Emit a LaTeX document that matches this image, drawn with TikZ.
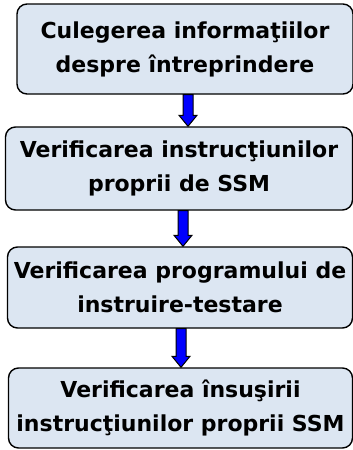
\documentclass[tikz,border=0pt]{standalone}
\usepackage{fontspec}
\setmainfont{DejaVu Sans}
\usepackage{xcolor}
\usepackage{tikz}
\usetikzlibrary{calc}
\definecolor{boxfill}{RGB}{220,230,242}
\definecolor{arrowblue}{RGB}{0,0,255}

\begin{document}
\begin{tikzpicture}[x=1pt, y=-1pt, every node/.style={font={\fontsize{22}{34}\selectfont\bfseries}, inner sep=0pt, align=center},
    stepbox/.style={draw=black, line width=1.4pt, fill=boxfill, rounded corners=10pt},
    flowarrow/.style={draw=black, line width=1pt, fill=arrowblue, line join=miter}]
    \useasboundingbox (0,0) rectangle (353,450);
    \node[stepbox, minimum width=336pt, minimum height=90pt] (s1) at (185,49) {Culegerea informaţiilor\\despre întreprindere};
    \node[stepbox, minimum width=347pt, minimum height=83pt] (s2) at (179,168.5) {Verificarea instrucţiunilor\\proprii de SSM};
    \node[stepbox, minimum width=345pt, minimum height=81pt] (s3) at (180,287.5) {Verificarea programului de\\instruire-testare};
    \node[stepbox, minimum width=344pt, minimum height=80pt] (s4) at (180.5,408) {Verificarea însuşirii\\instrucţiunilor proprii SSM};
    % arrows between the steps
    \foreach \a/\b/\x in {s1/s2/188, s2/s3/183, s3/s4/181} {
        \coordinate (ax) at (\x,0);
        \coordinate (top) at (ax |- \a.south);
        \coordinate (tip) at (ax |- \b.north);
        \draw[flowarrow] ($(top)+(-5,0)$) -- ($(tip)+(-5,-11)$) -- ($(tip)+(-9,-11)$) -- (tip)
            -- ($(tip)+(9,-11)$) -- ($(tip)+(5,-11)$) -- ($(top)+(5,0)$) -- cycle;
    }
\end{tikzpicture}
\end{document}
